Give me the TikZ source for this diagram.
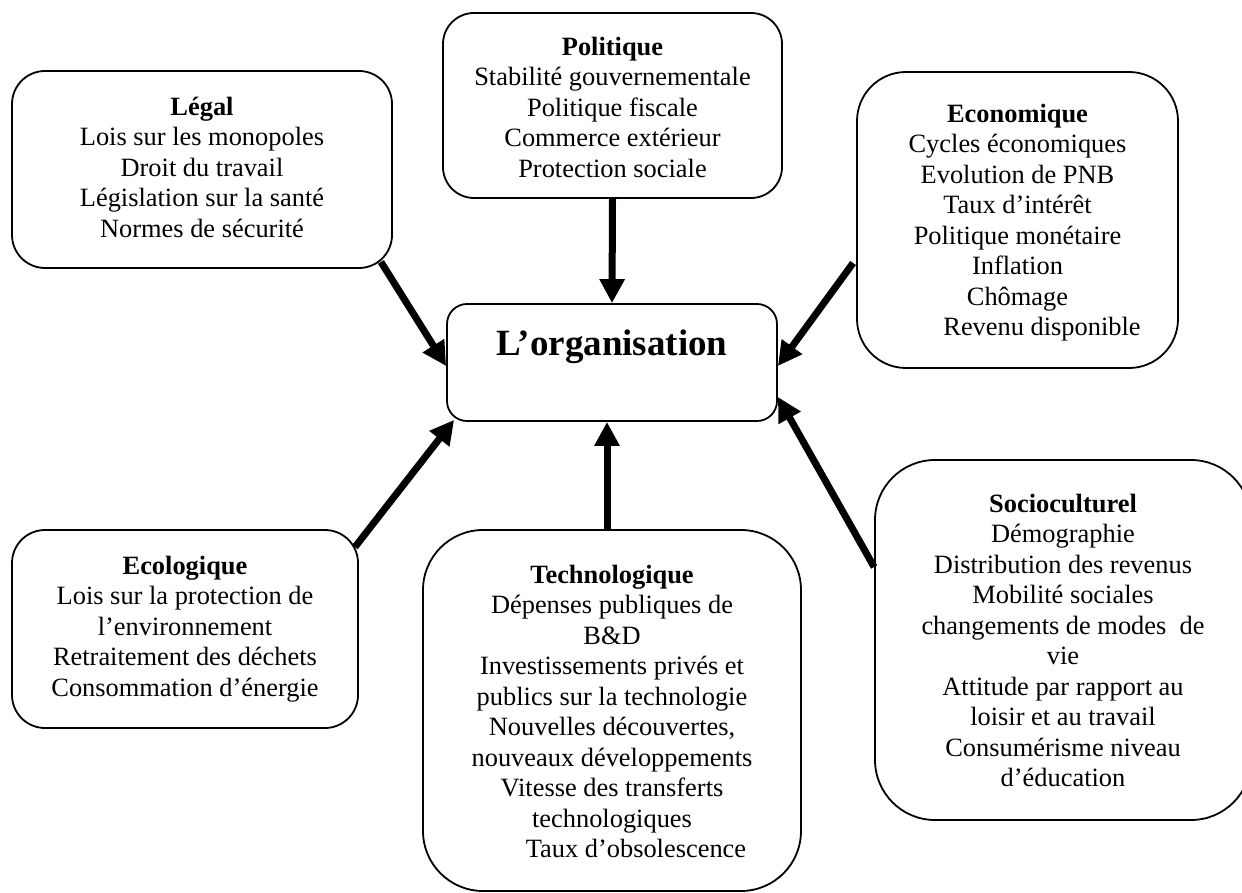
\documentclass[tikz,border=0pt]{standalone}
\usepackage{fontspec}
\setmainfont{Liberation Serif}
\usetikzlibrary{arrows.meta,calc}
% invisible strut fixing the height of the first line of each text block
\newcommand{\firststrut}{\rule{0pt}{24pt}}
\begin{document}
\begin{tikzpicture}[x=1pt,y=-1pt,
  panel/.style={draw, line width=1.8pt, inner sep=0pt, fill=white},
  blurb/.style={inner sep=0pt, anchor=north, align=center,
    font=\fontsize{26.4}{30.5}\selectfont},
  push/.style={line width=7pt, -{Triangle[length=24pt,width=24pt]}}]
\clip (0,0) rectangle (1242,893);
\fill[white] (0,0) rectangle (1242,893);

% rounded frames
\node[panel, minimum width=380pt, minimum height=197pt, rounded corners=33pt] (legal) at (202,169.5) {};
\node[panel, minimum width=339pt, minimum height=185pt, rounded corners=31pt] (polit) at (612.5,105.5) {};
\node[panel, minimum width=321pt, minimum height=296pt, rounded corners=49pt] (econ) at (1017.5,220) {};
\node[panel, minimum width=330pt, minimum height=117pt, rounded corners=20pt] (org) at (612,362.5) {};
\node[panel, minimum width=346pt, minimum height=198pt, rounded corners=33pt] (ecolo) at (185,629) {};
\node[panel, minimum width=378pt, minimum height=361pt, rounded corners=60pt] (tech) at (612,710.5) {};
\node[panel, minimum width=376pt, minimum height=360pt, rounded corners=60pt] (socio) at (1063,640) {};

% texts
\node[blurb] (legal-t) at (202,91) {\firststrut\textbf{Légal}\\Lois sur les monopoles\\Droit du travail\\Législation sur la santé\\Normes de sécurité};
\node[blurb] (polit-t) at (612.5,31) {\firststrut\textbf{Politique}\\Stabilité gouvernementale\\Politique fiscale\\Commerce extérieur\\Protection sociale};
\node[blurb] (econ-t) at (1017.5,98) {\firststrut\textbf{Economique}\\Cycles économiques\\Evolution de PNB\\Taux d’intérêt\\Politique monétaire\\Inflation\\Chômage\\\hspace*{49pt}Revenu disponible};
\node[blurb, font=\fontsize{37}{42}\selectfont\bfseries] (org-t) at (612,325) {\rule{0pt}{30pt}L’organisation};
\node[blurb] (ecolo-t) at (185,550) {\firststrut\textbf{Ecologique}\\Lois sur la protection de\\l’environnement\\Retraitement des déchets\\Consommation d’énergie};
\node[blurb] (tech-t) at (612,559) {\firststrut\textbf{Technologique}\\Dépenses publiques de\\B\&D\\Investissements privés et\\publics sur la technologie\\Nouvelles découvertes,\\nouveaux développements\\Vitesse des transferts\\technologiques\\\hspace*{48pt}Taux d’obsolescence};
\node[blurb] (socio-t) at (1063,488) {\firststrut\textbf{Socioculturel}\\Démographie\\Distribution des revenus\\Mobilité sociales\\changements de modes\ \ de\\vie\\Attitude par rapport au\\loisir et au travail\\Consumérisme niveau\\d’éducation};

% connector ends on the frames
\coordinate (legal-out) at ($(legal.south east)+(-12,-7)$);
\coordinate (legal-in) at ($(org.west)+(0,3.5)$);
\coordinate (econ-out) at ($(econ.west)+(-3,43)$);
\coordinate (econ-in) at ($(org.east)+(0,3.5)$);
\coordinate (ecolo-out) at ($(ecolo.north east)+(-4,18)$);
\coordinate (ecolo-in) at ($(org.south west)+(8,-2)$);
\coordinate (tech-out) at ($(tech.north)+(-5,0)$);
\coordinate (tech-in) at ($(org.south)+(-5,0)$);
\coordinate (socio-out) at ($(socio.west)+(0,-73)$);
\coordinate (socio-in) at ($(org.east)+(0,34.5)$);

% arrows towards the organisation
\draw[push] (legal-out) -- (legal-in);
\draw[push] (polit.south) -- (org.north);
\draw[push] (econ-out) -- (econ-in);
\draw[push] (ecolo-out) -- (ecolo-in);
\draw[push] (tech-out) -- (tech-in);
\draw[push] (socio-out) -- (socio-in);
\end{tikzpicture}
\end{document}
